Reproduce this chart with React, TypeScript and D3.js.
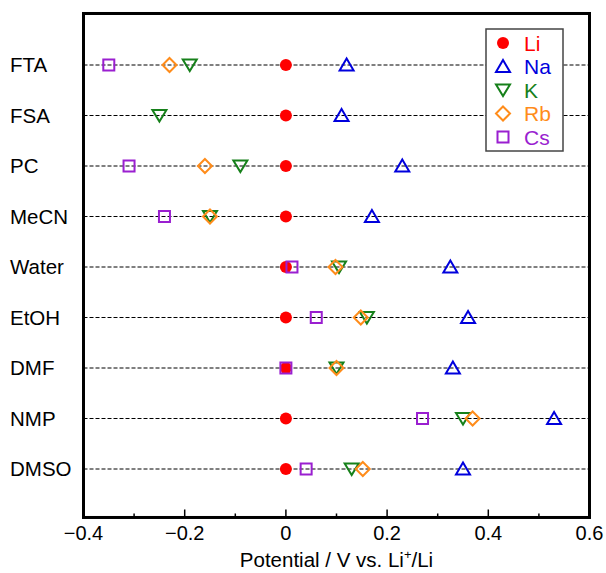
import React from 'react';
import * as d3 from 'd3';

const solvents = ['FTA', 'FSA', 'PC', 'MeCN', 'Water', 'EtOH', 'DMF', 'NMP', 'DMSO'];
const ions = ['Li', 'Na', 'K', 'Rb', 'Cs'];

// potentials vs Li+/Li, null = not measured
const liValues = [0, 0, 0, 0, 0, 0, 0, 0, 0];
const naValues = [0.12, 0.11, 0.23, 0.17, 0.325, 0.36, 0.33, 0.53, 0.35];
const kValues = [-0.19, -0.25, -0.09, -0.15, 0.105, 0.16, 0.1, 0.35, 0.13];
const rbValues = [-0.23, null, -0.16, -0.15, 0.098, 0.148, 0.1, 0.369, 0.152];
const csValues = [-0.35, null, -0.31, -0.24, 0.012, 0.06, 0, 0.27, 0.04];

const xTicks = [-0.4, -0.2, 0, 0.2, 0.4, 0.6];
const xMinorTicks = [-0.3, -0.1, 0.1, 0.3, 0.5];

const colors: Record<string, string> = {
  Li: '#ff0000',
  Na: '#0000dd',
  K: '#16801a',
  Rb: '#ff8c1a',
  Cs: '#9a1fd0',
};

const W = 606;
const H = 573;
const FONT = 'Liberation Sans, Arial, sans-serif';

function Marker({ ion, x, y }: { ion: string; x: number; y: number }) {
  const c = colors[ion];
  const sw = 2;
  if (ion === 'Li') return <circle cx={x} cy={y} r={6} fill={c} />;
  if (ion === 'Na')
    return <path d={`M${x},${y - 6.5}L${x + 7},${y + 5.5}L${x - 7},${y + 5.5}Z`} fill="none" stroke={c} strokeWidth={sw} />;
  if (ion === 'K')
    return <path d={`M${x - 7},${y - 5.5}L${x + 7},${y - 5.5}L${x},${y + 6}Z`} fill="none" stroke={c} strokeWidth={sw} />;
  if (ion === 'Rb')
    return <path d={`M${x},${y - 7}L${x + 7},${y}L${x},${y + 7}L${x - 7},${y}Z`} fill="none" stroke={c} strokeWidth={sw} />;
  return <rect x={x - 5.5} y={y - 5.5} width={11} height={11} fill="none" stroke={c} strokeWidth={sw} />;
}

export default function App() {
  const x = d3.scaleLinear().domain([-0.4, 0.6]).range([83.5, 589.5]);
  const y = d3.scaleLinear().domain([1, 9]).range([65, 469]);
  const series: Record<string, (number | null)[]> = {
    Li: liValues,
    Na: naValues,
    K: kValues,
    Rb: rbValues,
    Cs: csValues,
  };
  const fmt = (v: number) => (v === 0 ? '0' : d3.format('.1f')(v).replace('-', '\u2212'));
  const x0 = x(-0.4);
  const x1 = x(0.6);
  const yTop = y(-0.02);
  const yBot = y(9.96);

  const legX = 486;
  const legY = 29;

  return (
    <svg width={W} height={H} style={{ position: 'absolute', left: 0, top: 0 }} fontFamily={FONT}>
      <rect width={W} height={H} fill="#fff" />
      {solvents.map((s, i) => (
        <g key={s}>
          <line x1={x0} x2={x1} y1={y(i + 1)} y2={y(i + 1)} stroke="#000" strokeWidth={1} strokeDasharray="4,2" />
          <text x={10} y={y(i + 1)} dy="0.36em" fontSize={20.5}>{s}</text>
        </g>
      ))}
      {ions.map((ion) =>
        series[ion].map((v, i) =>
          v === null ? null : <Marker key={ion + i} ion={ion} x={x(v)} y={y(i + 1)} />
        )
      )}
      {xTicks.map((t) => (
        <g key={t}>
          <line x1={x(t)} x2={x(t)} y1={yBot} y2={yBot - 8} stroke="#000" strokeWidth={1.5} />
          <text x={x(t)} y={yBot + 23} textAnchor="middle" fontSize={20}>{fmt(t)}</text>
        </g>
      ))}
      {xMinorTicks.map((t) => (
        <line key={t} x1={x(t)} x2={x(t)} y1={yBot} y2={yBot - 4} stroke="#000" strokeWidth={1.5} />
      ))}
      <rect x={x0} y={yTop} width={x1 - x0} height={yBot - yTop} fill="none" stroke="#000" strokeWidth={3} />
      <text x={(x0 + x1) / 2} y={567} textAnchor="middle" fontSize={20.5}>
        Potential / V vs. Li<tspan dy={-8} fontSize={13}>+</tspan><tspan dy={8}>/Li</tspan>
      </text>
      <rect x={legX} y={legY} width={77} height={122} fill="#fff" stroke="#444" strokeWidth={1.5} />
      {ions.map((ion, i) => (
        <g key={ion}>
          <Marker ion={ion} x={legX + 17} y={legY + 14 + i * 23.5} />
          <text x={legX + 38} y={legY + 14 + i * 23.5} dy="0.36em" fontSize={21} fill={colors[ion]}>{ion}</text>
        </g>
      ))}
    </svg>
  );
}
